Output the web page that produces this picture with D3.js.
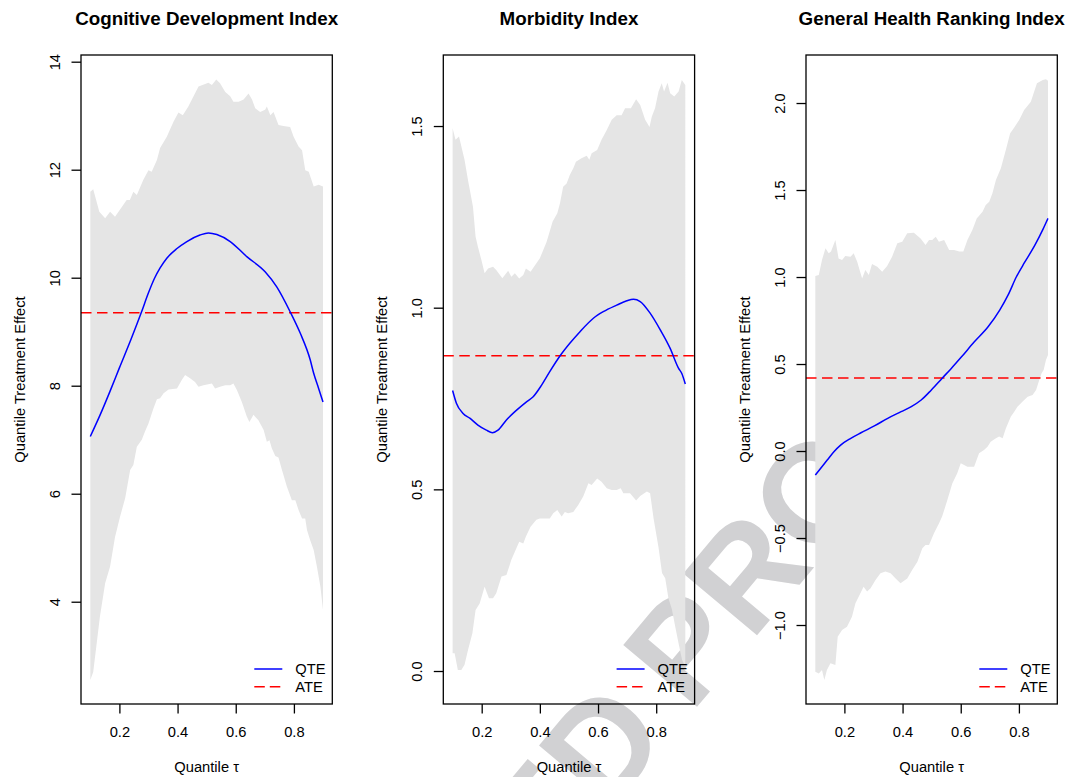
<!DOCTYPE html>
<html>
<head>
<meta charset="utf-8">
<script src="https://cdn.jsdelivr.net/npm/d3@7"></script>
<style>
  html, body { margin: 0; padding: 0; background: #fff; }
  svg { display: block; }
  text { font-family: "Liberation Sans", Arial, Helvetica, sans-serif; fill: #000; }
</style>
</head>
<body>
<svg id="chart" width="1067" height="777"></svg>
<script>
// ---- Cognitive Development Index ----
const cogUpperTau = [0.10,0.11,0.131,0.151,0.168,0.185,0.225,0.236,0.248,0.26,0.282,0.30,0.311,0.329,0.34,0.363,0.386,0.403,0.418,0.437,0.472,0.506,0.518,0.533,0.546,0.564,0.581,0.592,0.61,0.627,0.644,0.656,0.667,0.684,0.701,0.707,0.719,0.73,0.747,0.764,0.787,0.799,0.816,0.828,0.839,0.851,0.868,0.885,0.90];
const cogUpper    = [11.59,11.64,11.22,11.10,11.22,11.13,11.44,11.44,11.59,11.53,11.81,11.99,11.96,12.18,12.40,12.61,12.89,13.06,13.01,13.17,13.54,13.61,13.57,13.67,13.60,13.44,13.36,13.26,13.26,13.30,13.41,13.30,13.14,13.07,13.11,13.17,13.01,13.07,12.83,12.81,12.79,12.61,12.43,12.36,11.99,11.96,11.69,11.72,11.69];
const cogLowerTau = [0.10,0.11,0.122,0.133,0.151,0.168,0.185,0.202,0.22,0.237,0.248,0.26,0.277,0.288,0.30,0.317,0.329,0.34,0.352,0.369,0.398,0.415,0.426,0.443,0.46,0.472,0.489,0.518,0.529,0.546,0.564,0.581,0.592,0.604,0.621,0.638,0.647,0.661,0.678,0.696,0.707,0.716,0.724,0.736,0.747,0.759,0.776,0.793,0.805,0.816,0.828,0.839,0.845,0.856,0.868,0.879,0.891,0.90];
const cogLower    = [2.55,2.70,3.23,3.72,4.34,4.65,5.20,5.57,5.92,6.44,6.53,6.87,7.00,7.15,7.30,7.58,7.75,7.77,7.86,7.93,7.95,8.11,8.20,8.14,8.07,7.98,8.01,8.04,7.95,7.98,8.01,8.01,8.04,7.92,7.70,7.43,7.33,7.46,7.36,7.18,6.96,6.99,6.84,6.70,6.67,6.44,6.13,5.88,5.88,5.70,5.54,5.54,5.33,5.14,4.96,4.65,4.28,3.85];
const cogQteTau   = [0.10,0.133,0.168,0.20,0.24,0.275,0.30,0.32,0.34,0.363,0.398,0.432,0.477,0.506,0.535,0.581,0.638,0.701,0.741,0.787,0.822,0.856,0.868,0.885,0.90];
const cogQte      = [7.06,7.45,7.90,8.33,8.86,9.35,9.72,9.98,10.18,10.36,10.54,10.67,10.79,10.83,10.80,10.67,10.39,10.11,9.83,9.37,8.97,8.48,8.23,7.95,7.70];

// ---- Morbidity Index ----
const morUpperTau = [0.10,0.11,0.122,0.141,0.153,0.17,0.179,0.187,0.199,0.21,0.222,0.239,0.25,0.271,0.291,0.302,0.314,0.329,0.343,0.352,0.368,0.40,0.423,0.444,0.46,0.469,0.48,0.492,0.503,0.515,0.524,0.543,0.561,0.57,0.578,0.597,0.612,0.63,0.647,0.664,0.681,0.693,0.713,0.731,0.745,0.762,0.777,0.785,0.796,0.808,0.819,0.827,0.839,0.848,0.862,0.877,0.888,0.90];
const morUpper    = [1.494,1.462,1.471,1.407,1.351,1.278,1.195,1.168,1.131,1.095,1.108,1.113,1.104,1.081,1.102,1.085,1.095,1.080,1.090,1.108,1.099,1.136,1.181,1.237,1.260,1.287,1.333,1.342,1.365,1.384,1.402,1.411,1.418,1.407,1.425,1.434,1.462,1.489,1.517,1.530,1.530,1.549,1.549,1.574,1.558,1.517,1.497,1.526,1.549,1.595,1.618,1.595,1.619,1.590,1.581,1.595,1.627,1.613];
const morLowerTau = [0.10,0.107,0.118,0.13,0.141,0.153,0.168,0.179,0.193,0.21,0.225,0.239,0.25,0.268,0.285,0.302,0.314,0.329,0.343,0.352,0.368,0.388,0.40,0.434,0.446,0.46,0.475,0.486,0.497,0.515,0.532,0.549,0.567,0.578,0.597,0.612,0.63,0.647,0.664,0.678,0.687,0.71,0.731,0.745,0.768,0.779,0.791,0.808,0.82,0.831,0.842,0.854,0.866,0.877,0.889,0.90];
const morLower    = [0.049,0.049,0.003,0.003,0.017,0.058,0.104,0.168,0.186,0.232,0.200,0.200,0.214,0.260,0.264,0.306,0.328,0.356,0.351,0.370,0.397,0.416,0.420,0.420,0.434,0.443,0.425,0.438,0.434,0.438,0.457,0.480,0.517,0.512,0.530,0.521,0.503,0.498,0.498,0.503,0.489,0.489,0.469,0.482,0.494,0.489,0.420,0.340,0.270,0.255,0.200,0.170,0.120,0.076,0.030,0.012];
const morQteTau   = [0.10,0.113,0.136,0.159,0.187,0.216,0.237,0.256,0.285,0.32,0.354,0.377,0.406,0.434,0.469,0.503,0.538,0.584,0.618,0.664,0.699,0.722,0.745,0.779,0.814,0.848,0.877,0.888,0.90];
const morQte      = [0.772,0.737,0.709,0.696,0.677,0.663,0.656,0.663,0.691,0.718,0.741,0.755,0.787,0.824,0.867,0.902,0.934,0.971,0.989,1.007,1.019,1.023,1.017,0.985,0.939,0.888,0.833,0.819,0.790];

// ---- General Health Ranking Index ----
const genUpperTau = [0.10,0.112,0.123,0.135,0.146,0.154,0.169,0.18,0.192,0.203,0.221,0.232,0.244,0.261,0.272,0.284,0.295,0.313,0.33,0.347,0.364,0.382,0.399,0.416,0.439,0.462,0.479,0.491,0.502,0.514,0.525,0.543,0.56,0.577,0.595,0.609,0.623,0.64,0.655,0.675,0.686,0.698,0.709,0.721,0.738,0.755,0.77,0.784,0.801,0.818,0.841,0.862,0.882,0.893,0.90];
const genUpper    = [1.006,1.011,1.098,1.165,1.136,1.146,1.213,1.107,1.098,1.121,1.117,1.136,1.088,0.992,1.040,1.011,1.075,1.059,1.030,1.063,1.117,1.194,1.203,1.251,1.255,1.222,1.184,1.213,1.213,1.232,1.203,1.213,1.155,1.155,1.146,1.146,1.213,1.270,1.337,1.375,1.414,1.433,1.481,1.557,1.625,1.730,1.826,1.860,1.902,1.960,2.008,2.113,2.132,2.136,2.128];
const genLowerTau = [0.10,0.112,0.123,0.131,0.14,0.152,0.169,0.177,0.192,0.209,0.226,0.238,0.255,0.266,0.278,0.29,0.307,0.324,0.341,0.359,0.376,0.393,0.416,0.433,0.451,0.468,0.479,0.491,0.508,0.525,0.536,0.554,0.571,0.588,0.60,0.623,0.646,0.663,0.68,0.692,0.703,0.721,0.732,0.744,0.755,0.772,0.784,0.795,0.812,0.83,0.847,0.859,0.87,0.878,0.885,0.893,0.90];
const genLower    = [-1.268,-1.278,-1.259,-1.316,-1.259,-1.220,-1.230,-1.067,-1.029,-1.010,-0.952,-0.875,-0.818,-0.780,-0.808,-0.789,-0.741,-0.703,-0.693,-0.703,-0.732,-0.760,-0.732,-0.684,-0.636,-0.559,-0.540,-0.540,-0.473,-0.416,-0.377,-0.282,-0.186,-0.128,-0.071,-0.090,-0.090,-0.013,0.006,0.025,0.053,0.073,0.083,0.073,0.130,0.197,0.226,0.255,0.283,0.312,0.322,0.351,0.408,0.447,0.466,0.523,0.552];
const genQteTau   = [0.10,0.118,0.141,0.164,0.187,0.222,0.257,0.303,0.349,0.395,0.43,0.464,0.499,0.537,0.566,0.602,0.646,0.694,0.734,0.763,0.791,0.82,0.854,0.883,0.90];
const genQte      = [-0.138,-0.100,-0.052,-0.004,0.034,0.073,0.105,0.144,0.188,0.226,0.255,0.293,0.351,0.420,0.472,0.540,0.626,0.714,0.810,0.897,1.000,1.085,1.180,1.275,1.337];

// Average treatment effects (horizontal reference lines)
const ateValues = [9.35, 0.868, 0.42];

// Titles and tick values
const panelTitles = ["Cognitive Development Index", "Morbidity Index", "General Health Ranking Index"];
const xTickValues = [0.2, 0.4, 0.6, 0.8];
const yTickValues = [
  [4, 6, 8, 10, 12, 14],
  [0, 0.5, 1.0, 1.5],
  [-1.0, -0.5, 0, 0.5, 1.0, 1.5, 2.0]
];
const legendLabels = ["QTE", "ATE"];

// ---------------------------------------------------------------
const panels = [
  { upperTau: cogUpperTau, upper: cogUpper, lowerTau: cogLowerTau, lower: cogLower, qteTau: cogQteTau, qte: cogQte, yDomain: [2.106, 14.124], fmt: d3.format("d") },
  { upperTau: morUpperTau, upper: morUpper, lowerTau: morLowerTau, lower: morLower, qteTau: morQteTau, qte: morQte, yDomain: [-0.0908, 1.6955], fmt: d3.format(".1f") },
  { upperTau: genUpperTau, upper: genUpper, lowerTau: genLowerTau, lower: genLower, qteTau: genQteTau, qte: genQte, yDomain: [-1.454, 2.276], fmt: d3.format(".1f") }
];

const W = 1067, H = 777;
const frameLefts = [81, 443.3, 806];
const frameW = 251.3, frameTop = 55, frameBottom = 704;
const xDomain = [0.068, 0.932];
const FONT_SMALL = 14.7, FONT_TITLE = 18.8;
const TICK = 9.5;

const svg = d3.select("#chart");
svg.append("rect").attr("width", W).attr("height", H).attr("fill", "#fff");

// Background proof stamp, lying underneath the panels
const stamp = svg.append("g").attr("transform", "translate(691,714) rotate(-50)")
  .style("font-weight", "bold").style("font-size", "140px");
stamp.append("text").attr("x", 0).attr("y", 0).attr("text-anchor", "start")
  .style("fill", "#d1d1d3").text("PROOF");
stamp.append("text").attr("x", -30).attr("y", 0).attr("text-anchor", "end")
  .style("fill", "#d1d1d3").text("UNCORRECTED");

const defs = svg.append("defs");

panels.forEach((p, i) => {
  const left = frameLefts[i], right = left + frameW;
  const x = d3.scaleLinear().domain(xDomain).range([left, right]);
  const y = d3.scaleLinear().domain(p.yDomain).range([frameBottom, frameTop]);
  const g = svg.append("g");

  defs.append("clipPath").attr("id", "clip" + i)
    .append("rect").attr("x", left).attr("y", frameTop).attr("width", frameW).attr("height", frameBottom - frameTop);

  // Confidence band: upper edge left→right, lower edge right→left
  const upperPts = p.upperTau.map((t, k) => [t, p.upper[k]]);
  const lowerPts = p.lowerTau.map((t, k) => [t, p.lower[k]]).reverse();
  const bandLine = d3.line().x(d => x(d[0])).y(d => y(d[1]));
  g.append("path")
    .attr("d", bandLine(upperPts.concat(lowerPts)) + "Z")
    .attr("fill", "#e5e5e5").attr("stroke", "none");

  // ATE dashed reference line across the plotting region
  g.append("line")
    .attr("clip-path", `url(#clip${i})`)
    .attr("x1", left).attr("x2", right)
    .attr("y1", y(ateValues[i])).attr("y2", y(ateValues[i]))
    .attr("stroke", "#ff0000").attr("stroke-width", 1.5)
    .attr("stroke-dasharray", "10.5,5.5");

  // QTE curve
  const qteLine = d3.line().x(d => x(d[0])).y(d => y(d[1])).curve(d3.curveMonotoneX);
  g.append("path")
    .attr("d", qteLine(p.qteTau.map((t, k) => [t, p.qte[k]])))
    .attr("fill", "none").attr("stroke", "#0000ff").attr("stroke-width", 1.5);

  // Box around the plotting region
  g.append("rect")
    .attr("x", left).attr("y", frameTop).attr("width", frameW).attr("height", frameBottom - frameTop)
    .attr("fill", "none").attr("stroke", "#000").attr("stroke-width", 1.3);

  // Bottom axis
  const xAxis = g.append("g").attr("transform", `translate(0,${frameBottom})`)
    .call(d3.axisBottom(x).tickValues(xTickValues).tickSize(TICK).tickFormat(d3.format(".1f")));
  xAxis.select(".domain").remove();
  xAxis.selectAll(".tick line").attr("stroke", "#000").attr("stroke-width", 1.3);
  xAxis.selectAll(".tick text")
    .attr("y", 33).attr("dy", 0)
    .style("font-size", FONT_SMALL + "px").style("font-family", '"Liberation Sans", Arial, sans-serif')
    .attr("fill", "#000");

  // Left axis with labels turned parallel to the axis
  const yAxis = g.append("g").attr("transform", `translate(${left},0)`)
    .call(d3.axisLeft(y).tickValues(yTickValues[i]).tickSize(TICK)
      .tickFormat(v => p.fmt(v).replace("-", "\u2212")));
  yAxis.select(".domain").remove();
  yAxis.selectAll(".tick line").attr("stroke", "#000").attr("stroke-width", 1.3);
  yAxis.selectAll(".tick text")
    .attr("x", null).attr("dy", 0).attr("text-anchor", "middle")
    .attr("transform", "translate(-21,0) rotate(-90)")
    .style("font-size", FONT_SMALL + "px").style("font-family", '"Liberation Sans", Arial, sans-serif')
    .attr("fill", "#000");

  // Titles
  const cx = (left + right) / 2;
  g.append("text").attr("x", cx).attr("y", 25).attr("text-anchor", "middle")
    .style("font-size", FONT_TITLE + "px").style("font-weight", "bold").text(panelTitles[i]);

  g.append("text").attr("x", cx).attr("y", 772).attr("text-anchor", "middle")
    .style("font-size", FONT_SMALL + "px").text("Quantile \u03c4");

  const cy = (frameTop + frameBottom) / 2;
  g.append("text").attr("transform", `translate(${left - 56.5},${cy}) rotate(-90)`)
    .attr("text-anchor", "middle")
    .style("font-size", FONT_SMALL + "px").text("Quantile Treatment Effect");

  // Legend in the lower right corner
  const legY = [frameBottom - 35, frameBottom - 17.3];
  const legStyles = [
    { stroke: "#0000ff", dash: null },
    { stroke: "#ff0000", dash: "10.5,5" }
  ];
  legendLabels.forEach((lab, k) => {
    g.append("line")
      .attr("x1", right - 78).attr("x2", right - 50)
      .attr("y1", legY[k]).attr("y2", legY[k])
      .attr("stroke", legStyles[k].stroke).attr("stroke-width", 1.5)
      .attr("stroke-dasharray", legStyles[k].dash);
    g.append("text").attr("x", right - 37).attr("y", legY[k] + 5.3)
      .style("font-size", FONT_SMALL + "px").text(lab);
  });
});
</script>
</body>
</html>
